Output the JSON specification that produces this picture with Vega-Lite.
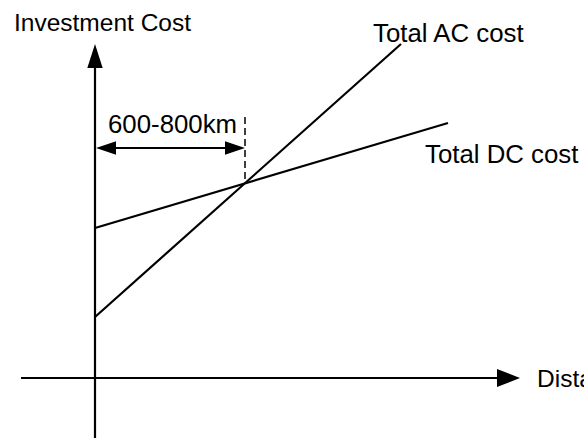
{
  "$schema": "https://vega.github.io/schema/vega-lite/v6.json",
  "width": 584,
  "height": 438,
  "autosize": {"type": "none"},
  "padding": 0,
  "config": {"view": {"stroke": null}},
  "encoding": {
    "x": {"type": "quantitative", "scale": {"domain": [-95, 489], "nice": false, "zero": false}, "axis": null},
    "y": {"type": "quantitative", "scale": {"domain": [-60, 378], "nice": false, "zero": false}, "axis": null}
  },
  "layer": [
    {
      "data": {"values": [
        {"name": "Distance axis", "d1": -74, "c1": 0, "d2": 405, "c2": 0},
        {"name": "Investment Cost axis", "d1": 0, "c1": -60, "d2": 0, "c2": 312},
        {"name": "600-800km span", "d1": 5, "c1": 230, "d2": 146, "c2": 230}
      ]},
      "mark": {"type": "rule", "color": "black", "strokeWidth": 2.2},
      "encoding": {
        "x": {"field": "d1", "type": "quantitative"},
        "y": {"field": "c1", "type": "quantitative"},
        "x2": {"field": "d2"},
        "y2": {"field": "c2"}
      }
    },
    {
      "data": {"values": [
        {"name": "break-even", "d1": 150, "c1": 261, "d2": 150, "c2": 195}
      ]},
      "mark": {"type": "rule", "color": "black", "strokeWidth": 1.5, "strokeDash": [7, 4]},
      "encoding": {
        "x": {"field": "d1", "type": "quantitative"},
        "y": {"field": "c1", "type": "quantitative"},
        "x2": {"field": "d2"},
        "y2": {"field": "c2"}
      }
    },
    {
      "data": {"values": [
        {"series": "Total AC cost", "distance": 0, "cost": 61},
        {"series": "Total AC cost", "distance": 306, "cost": 334},
        {"series": "Total DC cost", "distance": 0, "cost": 150},
        {"series": "Total DC cost", "distance": 353, "cost": 255}
      ]},
      "mark": {"type": "line", "color": "black", "strokeWidth": 2.2},
      "encoding": {
        "x": {"field": "distance", "type": "quantitative"},
        "y": {"field": "cost", "type": "quantitative"},
        "detail": {"field": "series", "type": "nominal"}
      }
    },
    {
      "data": {"values": [{"arrow": "y axis head", "d": 0, "c": 322}]},
      "mark": {"type": "point", "filled": true, "color": "black", "opacity": 1, "strokeWidth": 0, "size": 576, "shape": "M0,-1L0.64,1L-0.64,1Z"},
      "encoding": {"x": {"field": "d", "type": "quantitative"}, "y": {"field": "c", "type": "quantitative"}}
    },
    {
      "data": {"values": [{"arrow": "x axis head", "d": 413.5, "c": 0}]},
      "mark": {"type": "point", "filled": true, "color": "black", "opacity": 1, "strokeWidth": 0, "size": 529, "shape": "M1,0L-1,-0.78L-1,0.78Z"},
      "encoding": {"x": {"field": "d", "type": "quantitative"}, "y": {"field": "c", "type": "quantitative"}}
    },
    {
      "data": {"values": [{"arrow": "span right head", "d": 140, "c": 230}]},
      "mark": {"type": "point", "filled": true, "color": "black", "opacity": 1, "strokeWidth": 0, "size": 400, "shape": "M1,0L-1,-0.67L-1,0.67Z"},
      "encoding": {"x": {"field": "d", "type": "quantitative"}, "y": {"field": "c", "type": "quantitative"}}
    },
    {
      "data": {"values": [{"arrow": "span left head", "d": 11, "c": 230}]},
      "mark": {"type": "point", "filled": true, "color": "black", "opacity": 1, "strokeWidth": 0, "size": 400, "shape": "M-1,0L1,-0.67L1,0.67Z"},
      "encoding": {"x": {"field": "d", "type": "quantitative"}, "y": {"field": "c", "type": "quantitative"}}
    },
    {
      "data": {"values": [
        {"label": "Investment Cost", "d": -81, "c": 347},
        {"label": "Distance", "d": 442, "c": -9}
      ]},
      "mark": {"type": "text", "align": "left", "baseline": "alphabetic", "fontSize": 24.5, "font": "Liberation Sans, Arial, sans-serif", "color": "black"},
      "encoding": {
        "x": {"field": "d", "type": "quantitative"},
        "y": {"field": "c", "type": "quantitative"},
        "text": {"field": "label", "type": "nominal"}
      }
    },
    {
      "data": {"values": [
        {"label": "Total AC cost", "d": 278, "c": 336},
        {"label": "Total DC cost", "d": 330, "c": 215},
        {"label": "600-800km", "d": 13, "c": 245}
      ]},
      "mark": {"type": "text", "align": "left", "baseline": "alphabetic", "fontSize": 25.8, "font": "Liberation Sans, Arial, sans-serif", "color": "black"},
      "encoding": {
        "x": {"field": "d", "type": "quantitative"},
        "y": {"field": "c", "type": "quantitative"},
        "text": {"field": "label", "type": "nominal"}
      }
    }
  ]
}
